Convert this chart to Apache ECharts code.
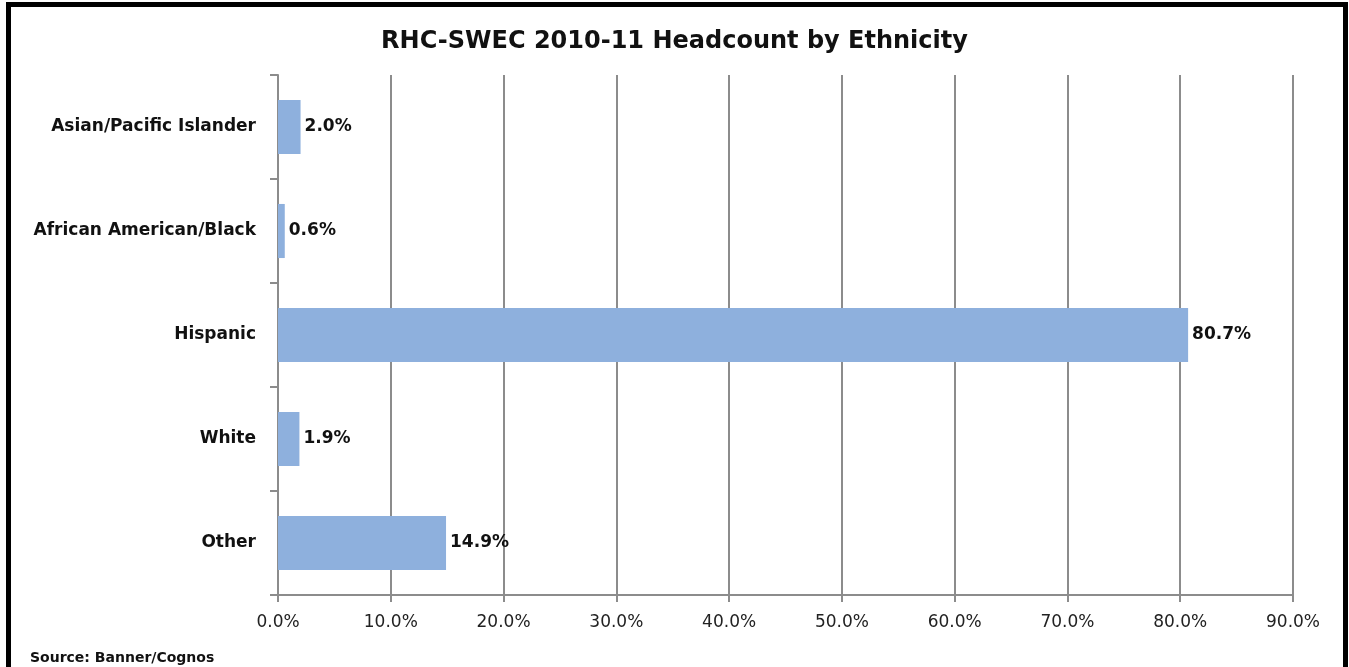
<!DOCTYPE html>
<html>
<head>
<meta charset="utf-8">
<script src="https://cdn.jsdelivr.net/npm/echarts@6/dist/echarts.min.js"></script>
<style>
  html, body { margin: 0; padding: 0; background: #fff; }
  #chart { width: 1349px; height: 667px; }
</style>
</head>
<body>
<div id="chart"></div>
<script>
// Headcount share by ethnicity, top to bottom
const categories = ['Asian/Pacific Islander', 'African American/Black', 'Hispanic', 'White', 'Other'];
const shares = [2.0, 0.6, 80.7, 1.9, 14.9];
const axisMax = 90;
const axisStep = 10;

const FONT = '"DejaVu Sans", "Open Sans", sans-serif';
const GREY = '#8c8c8c';

const chart = echarts.init(document.getElementById('chart'), null, { renderer: 'canvas' });
chart.setOption({
  backgroundColor: '#fff',
  animation: false,
  title: {
    text: 'RHC-SWEC 2010-11 Headcount by Ethnicity',
    left: 'center',
    top: 25,
    textStyle: { fontFamily: FONT, fontWeight: 'bold', fontSize: 24, color: '#111' }
  },
  graphic: [
    {
      type: 'rect',
      shape: { x: 8.5, y: 4.5, width: 1337, height: 720 },
      style: { fill: 'none', stroke: '#000', lineWidth: 5 },
      silent: true
    },
    {
      type: 'text',
      left: 30,
      top: 651,
      style: { text: 'Source: Banner/Cognos', fontFamily: FONT, fontWeight: 'bold', fontSize: 14, fill: '#111' }
    }
  ],
  grid: { left: 278, right: 56, top: 75, bottom: 72, containLabel: false },
  xAxis: {
    type: 'value',
    min: 0,
    max: axisMax,
    interval: axisStep,
    axisLine: { show: true, lineStyle: { color: GREY, width: 2 } },
    axisTick: { show: true, length: 7, lineStyle: { color: GREY, width: 2 } },
    axisLabel: {
      margin: 19,
      fontFamily: FONT,
      fontSize: 17,
      color: '#222',
      formatter: v => v.toFixed(1) + '%'
    },
    splitLine: { show: true, lineStyle: { color: GREY, width: 2 } }
  },
  yAxis: {
    type: 'category',
    data: categories,
    inverse: true,
    axisLine: { show: true, lineStyle: { color: GREY, width: 2 } },
    axisTick: { show: true, length: 8, lineStyle: { color: GREY, width: 2 } },
    axisLabel: {
      margin: 22,
      fontFamily: FONT,
      fontWeight: 'bold',
      fontSize: 17,
      color: '#111'
    }
  },
  series: [{
    type: 'bar',
    data: shares,
    barCategoryGap: '48%',
    itemStyle: { color: '#8eb0dd' },
    label: {
      show: true,
      position: 'right',
      distance: 4,
      fontFamily: FONT,
      fontWeight: 'bold',
      fontSize: 17,
      color: '#111',
      formatter: p => p.value.toFixed(1) + '%'
    }
  }]
});
</script>
</body>
</html>
